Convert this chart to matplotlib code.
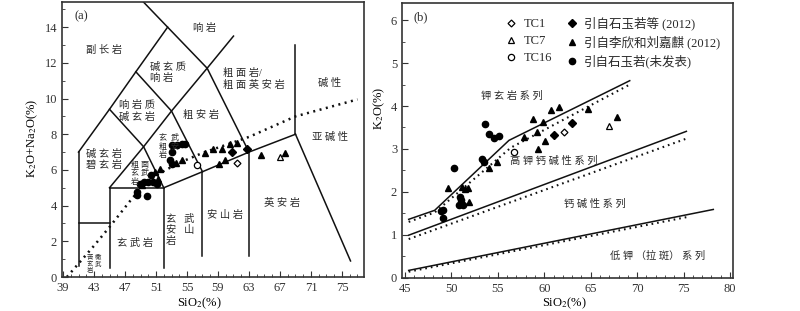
import numpy as np
import matplotlib
matplotlib.use("Agg")
import matplotlib.pyplot as plt
from matplotlib.ticker import MultipleLocator

plt.rcParams['font.family'] = ['Liberation Serif', 'Noto Sans CJK SC']
plt.rcParams['mathtext.fontset'] = 'stix'

# ---- panel (a) TAS data ----
a_tc1_si, a_tc1_alk = [61.5], [6.4]
a_tc7_si, a_tc7_alk = [67.0], [6.75]
a_tc16_si, a_tc16_alk = [56.3], [6.3]
a_shi_si = [60.8, 62.8]
a_shi_alk = [7.0, 7.15]
a_li_si = [49.2, 50.9, 51.5, 51.2, 53.6, 54.3, 57.3, 58.4, 59.5, 60.5, 61.4, 59.1, 59.9, 64.5, 67.6]
a_li_alk = [5.15, 5.9, 6.05, 5.5, 6.41, 6.57, 6.95, 7.18, 7.2, 7.48, 7.52, 6.35, 6.55, 6.82, 6.97]
a_un_si = [53.0, 53.7, 54.3, 54.7, 53.0, 52.8, 53.0, 48.5, 48.5, 49.8, 48.9, 49.5, 50.0, 50.4, 50.6, 51.1]
a_un_alk = [7.37, 7.37, 7.43, 7.43, 7.0, 6.54, 6.35, 4.77, 4.58, 4.53, 5.23, 5.3, 5.35, 5.7, 5.32, 5.23]

# TAS field boundaries (polylines)
tas_lines = [
    ([41, 41], [0.6, 7]),
    ([41, 45], [3, 3]),
    ([45, 45], [0.5, 5]),
    ([45, 52], [5, 5]),
    ([52, 52], [0.5, 5]),
    ([52, 57, 63, 69], [5, 5.9, 7, 8]),
    ([57, 57], [1.2, 5.9]),
    ([63, 63], [1.2, 7]),
    ([69, 76.1], [8, 0.9]),
    ([69, 69], [8, 13]),
    ([45, 49.4, 53, 57.6, 61], [5, 7.3, 9.3, 11.7, 13.5]),
    ([52, 49.4, 45], [5, 7.3, 9.4]),
    ([41, 45, 48.4, 52.5], [7, 9.4, 11.5, 14]),
    ([57, 53, 48.4], [5.9, 9.3, 11.5]),
    ([63, 57.6, 52.5, 49.4], [7, 11.7, 14, 15.4]),
]
# Irvine & Baragar alkaline / subalkaline divide
ib_si = [39.5, 41, 43, 45, 48, 51, 54, 57, 63, 69, 77]
ib_alk = [0.0, 0.75, 1.75, 2.8, 4.45, 5.7, 6.4, 6.95, 7.85, 9.0, 9.95]

# ---- panel (b) K2O data ----
b_tc1_si, b_tc1_k = [62.1], [3.4]
b_tc7_si, b_tc7_k = [67.0], [3.54]
b_tc16_si, b_tc16_k = [56.7], [2.94]
b_shi_si = [61.1, 63.0]
b_shi_k = [3.32, 3.61]
b_li_si = [49.6, 51.1, 51.5, 51.8, 51.9, 54.1, 54.9, 57.8, 58.8, 59.2, 59.3, 59.9, 60.1, 60.7, 61.6, 64.7, 67.8]
b_li_k = [2.08, 2.11, 2.07, 2.1, 1.76, 2.56, 2.7, 3.27, 3.69, 3.4, 3.01, 3.63, 3.18, 3.9, 3.97, 3.93, 3.75]
b_un_si = [53.6, 54.0, 54.6, 55.1, 53.3, 53.5, 50.3, 50.9, 51.0, 50.8, 51.3, 48.9, 49.1, 49.1]
b_un_k = [3.57, 3.34, 3.25, 3.29, 2.77, 2.69, 2.56, 1.88, 1.82, 1.7, 1.7, 1.55, 1.57, 1.4]

# series boundaries: solid and dotted versions
sho_si, sho_k = [45.4, 48.2, 56.2, 69.2], [1.36, 1.57, 3.2, 4.59]
sho_si_d, sho_k_d = [45.4, 48.2, 56.4, 69.2], [1.3, 1.52, 3.03, 4.5]
hk_si, hk_k = [45.4, 75.3], [0.99, 3.41]
hk_si_d, hk_k_d = [45.4, 75.3], [0.9, 3.24]
lk_si, lk_k = [45.4, 78.2], [0.17, 1.59]
lk_si_d, lk_k_d = [45.4, 75.3], [0.14, 1.41]

ink = '#111111'
txt = '#2a2a2a'
ms = 4.5

fig = plt.figure(figsize=(8, 3.11), dpi=100)
ax1 = fig.add_axes([62 / 800, 1 - 277 / 311, 302 / 800, 275 / 311])
ax2 = fig.add_axes([402 / 800, 1 - 277.7 / 311, 331 / 800, 274.7 / 311])

for ax in (ax1, ax2):
    for s in ax.spines.values():
        s.set_linewidth(1.2)
        s.set_color('#333333')
    ax.tick_params(which='both', direction='in', labelsize=9, colors='#333333')
    ax.tick_params(which='major', length=4, width=0.8)
    ax.tick_params(which='minor', length=2, width=0.6)

# ---------- panel (a) ----------
for xs, ys in tas_lines:
    ax1.plot(xs, ys, color=ink, lw=1.1)
ax1.plot(ib_si, ib_alk, color=ink, lw=1.8, ls=(0, (0.8, 1.8)))

ax1.plot(a_un_si, a_un_alk, 'o', color='black', ms=ms, ls='none')
ax1.plot(a_li_si, a_li_alk, '^', color='black', ms=ms, ls='none')
ax1.plot(a_shi_si, a_shi_alk, 'D', color='black', ms=ms - 0.8, ls='none')
ax1.plot(a_tc1_si, a_tc1_alk, 'D', mfc='white', mec='black', mew=0.9, ms=ms - 1, ls='none')
ax1.plot(a_tc7_si, a_tc7_alk, '^', mfc='white', mec='black', mew=0.9, ms=ms, ls='none')
ax1.plot(a_tc16_si, a_tc16_alk, 'o', mfc='white', mec='black', mew=0.9, ms=ms, ls='none')

ax1.set_xlim(38.87, 77.84)
ax1.set_ylim(0, 15.41)
ax1.set_xticks(np.arange(39, 77, 4))
ax1.xaxis.set_minor_locator(MultipleLocator(1))
ax1.set_yticks(np.arange(0, 15, 2))
ax1.yaxis.set_minor_locator(MultipleLocator(1))
ax1.set_xlabel('SiO$_2$(%)', fontsize=9)
ax1.xaxis.set_label_coords((199.5 - 62) / 302, -0.066)
ax1.set_ylabel('K$_2$O+Na$_2$O(%)', fontsize=9)
ax1.yaxis.set_label_coords(-0.072, 0.505)

fs = 7.4
tk = dict(color=txt, fontsize=fs, ha='center', va='center')
ax1.text(41.3, 14.6, '(a)', color=txt, fontsize=9, ha='center', va='center')
ax1.text(44.3, 12.7, '副 长 岩', **tk)
ax1.text(50.2, 11.46, '碱 玄 质\n响 岩', color=txt, fontsize=fs, ha='left', va='center', linespacing=1.15)
ax1.text(57.3, 13.95, '响 岩', **tk)
ax1.text(48.6, 9.3, '响 岩 质\n碱 玄 岩', linespacing=1.15, **tk)
ax1.text(56.8, 9.1, '粗 安 岩', **tk)
ax1.text(59.6, 11.1, '粗 面 岩/\n粗 面 英 安 岩', color=txt, fontsize=fs, ha='left', va='center', linespacing=1.15)
ax1.text(73.4, 10.9, '碱 性', **tk)
ax1.text(73.4, 7.85, '亚 碱 性', **tk)
ax1.text(44.3, 6.6, '碱 玄 岩\n碧 玄 岩', linespacing=1.15, **tk)
ax1.text(51.4, 7.3, '玄  武\n粗  安\n岩', color=txt, fontsize=5.8, ha='left', va='center', linespacing=1.1)
ax1.text(47.8, 5.8, '粗 面\n玄 武\n岩', color=txt, fontsize=5.8, ha='left', va='center', linespacing=1.1)
ax1.text(48.3, 1.9, '玄 武 岩', **tk)
ax1.text(52.3, 2.64, '玄   武\n安   山\n岩', color=txt, fontsize=fs, ha='left', va='center', linespacing=1.1)
ax1.text(59.9, 3.48, '安 山 岩', **tk)
ax1.text(67.3, 4.15, '英 安 岩', **tk)
ax1.text(42.1, 0.75, '苦 橄\n玄 武\n岩', color=txt, fontsize=4.6, ha='left', va='center', linespacing=1.0)

# ---------- panel (b) ----------
ax2.plot(sho_si, sho_k, color=ink, lw=1.1)
ax2.plot(hk_si, hk_k, color=ink, lw=1.1)
ax2.plot(lk_si, lk_k, color=ink, lw=1.1)
dot = dict(color=ink, lw=1.5, ls=(0, (0.8, 1.9)))
ax2.plot(sho_si_d, sho_k_d, **dot)
ax2.plot(hk_si_d, hk_k_d, **dot)
ax2.plot(lk_si_d, lk_k_d, **dot)

h_un, = ax2.plot(b_un_si, b_un_k, 'o', color='black', ms=ms, ls='none')
h_li, = ax2.plot(b_li_si, b_li_k, '^', color='black', ms=ms, ls='none')
h_shi, = ax2.plot(b_shi_si, b_shi_k, 'D', color='black', ms=ms - 0.8, ls='none')
h_tc1, = ax2.plot(b_tc1_si, b_tc1_k, 'D', mfc='white', mec='black', mew=0.9, ms=ms - 1, ls='none')
h_tc7, = ax2.plot(b_tc7_si, b_tc7_k, '^', mfc='white', mec='black', mew=0.9, ms=ms, ls='none')
h_tc16, = ax2.plot(b_tc16_si, b_tc16_k, 'o', mfc='white', mec='black', mew=0.9, ms=ms, ls='none')

ax2.set_xlim(44.68, 80.32)
ax2.set_ylim(0, 6.4)
ax2.set_xticks(np.arange(45, 81, 5))
ax2.xaxis.set_minor_locator(MultipleLocator(1))
ax2.set_yticks(np.arange(0, 7, 1))
ax2.yaxis.set_minor_locator(MultipleLocator(0.5))
ax2.set_xlabel('SiO$_2$(%)', fontsize=9)
ax2.xaxis.set_label_coords(0.49, -0.066)
ax2.set_ylabel('K$_2$O(%)', fontsize=9)
ax2.yaxis.set_label_coords(-0.045, 0.618)

ax2.text(46.7, 6.07, '(b)', color=txt, fontsize=9, ha='center', va='center')
ax2.text(56.5, 4.24, '钾 玄 岩 系 列', **tk)
ax2.text(56.3, 2.72, '高 钾 钙 碱 性 系 列', color=txt, fontsize=fs, ha='left', va='center')
ax2.text(65.45, 1.73, '钙 碱 性 系 列', **tk)
ax2.text(72.2, 0.5, '低 钾 （拉 斑） 系 列', **tk)

# ncol=2 fills column-wise: sample markers first, then literature data
leg = ax2.legend([h_tc1, h_tc7, h_tc16, h_shi, h_li, h_un],
                 ['TC1', 'TC7', 'TC16', '引自石玉若等 (2012)',
                  '引自李欣和刘嘉麒 (2012)', '引自石玉若(未发表)'],
                 ncol=2, loc='upper left', bbox_to_anchor=(0.311, 0.952),
                 frameon=False, fontsize=9, handlelength=1.0, handletextpad=0.5,
                 columnspacing=1.05, labelspacing=0.42, borderpad=0, borderaxespad=0)
for t in leg.get_texts():
    t.set_color(txt)

fig.savefig('out.png', dpi=100)
